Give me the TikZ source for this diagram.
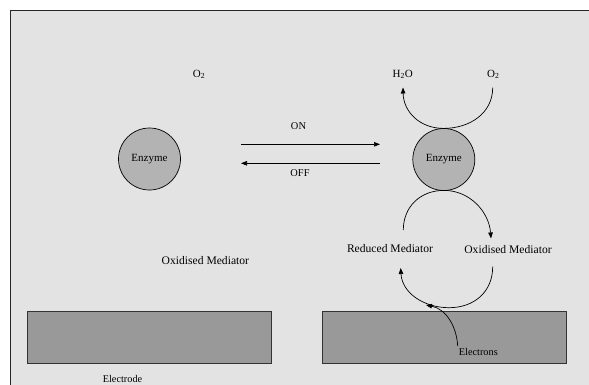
\documentclass[tikz,border=0pt]{standalone}
\usepackage{fontspec}
\setmainfont{Liberation Serif}
\usetikzlibrary{arrows.meta}
\definecolor{bggray}{HTML}{E3E3E3}
\definecolor{elgray}{HTML}{999999}
\definecolor{enzgray}{HTML}{B3B3B3}
\tikzset{
  lab/.style={inner sep=0pt, font=\fontsize{#1}{#1}\selectfont},
  lab/.default=11,
  enzyme/.style={circle, draw=black, line width=0.7pt, fill=enzgray, minimum size=62pt, inner sep=0pt, font=\fontsize{11}{13}\selectfont},
  electrode/.style={draw=black!80, line width=0.9pt, fill=elgray},
  conn/.style={line width=0.7pt, -{Triangle[length=6pt,width=4.5pt]}},
  plain/.style={line width=0.7pt}
}
\begin{document}
\begin{tikzpicture}[x=1pt,y=-1pt]
\useasboundingbox (0,0) rectangle (589,384);
\clip (0,0) rectangle (589,384);
\fill[white] (0,0) rectangle (589,384);
\draw[fill=bggray, line width=1pt, draw=black!85] (10.5,10.5) rectangle (600,400);
% electrodes
\draw[electrode] (27.5,311) rectangle (271.7,363.3);
\draw[electrode] (322.5,311) rectangle (566,363.3);
% enzymes
\node[enzyme] (enzL) at (149.5,159) {Enzyme};
\node[enzyme] (enzR) at (443.8,159.5) {Enzyme};
% labels
\node[lab=11] (o2L) at (199,74.5) {O\textsubscript{2}};
\node[lab=11] (h2o) at (402.7,74.5) {H\textsubscript{2}O};
\node[lab=11] (o2R) at (493.3,74.5) {O\textsubscript{2}};
\node[lab=10.4] (on) at (298.5,125.7) {ON};
\node[lab=10.4] (off) at (300,173.3) {OFF};
\node[lab=11.6] (redmed) at (390,248.3) {Reduced Mediator};
\node[lab=11.6] (oxmedR) at (508,249.3) {Oxidised Mediator};
\node[lab=11.6] (oxmedL) at (205.4,260.5) {Oxidised Mediator};
\node[lab=10.3] (electrons) at (478.3,351.7) {Electrons};
\node[lab=10.3] (electrode) at (122.5,378.6) {Electrode};
% coordinates for arc ends
\coordinate (onS) at (241,144.3);
\coordinate (onE) at (380,144.3);
\coordinate (offS) at (380,163.3);
\coordinate (offE) at (241,163.3);
\coordinate (t1) at (492.7,87.7);
\coordinate (t2) at (443.6,128.4);
\coordinate (t3) at (403,87.5);
\coordinate (b1) at (403.3,230);
\coordinate (b2) at (444,190.4);
\coordinate (b3) at (491,238.5);
\coordinate (l1) at (492.7,266.7);
\coordinate (l2) at (449,307.7);
\coordinate (l3) at (400.7,268);
\coordinate (e1) at (457.7,346);
\coordinate (e2) at (426,305);
% ON / OFF arrows
\draw[conn] (onS) -- (onE);
\draw[conn] (offS) -- (offE);
% top arc O2 -> H2O
\draw[conn] (t1) .. controls (492.7,113) and (470,128.4) .. (t2)
             .. controls (420,128.4) and (403.5,112) .. (t3);
% arc under enzyme: reduced -> oxidised
\draw[conn] (b1) .. controls (403.3,207) and (420,190.4) .. (b2)
             .. controls (470,190.4) and (489,212) .. (b3);
% lower arc: oxidised -> reduced
\draw[conn] (l1) .. controls (492.7,292) and (474,307.7) .. (l2)
             .. controls (424,307.7) and (402,293) .. (l3);
% electrons
\draw[conn] (e1) .. controls (456.5,326) and (446,309) .. (e2);
\end{tikzpicture}
\end{document}
